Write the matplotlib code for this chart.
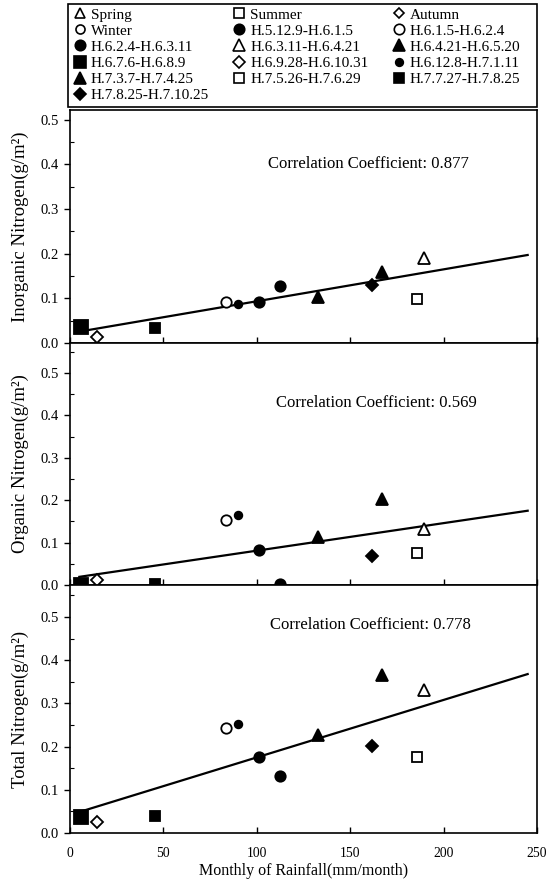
import matplotlib
matplotlib.use("Agg")
import matplotlib.pyplot as plt
from matplotlib.lines import Line2D
from matplotlib.patches import Rectangle
from matplotlib.ticker import MultipleLocator, FormatStrFormatter

plt.rcParams['font.family'] = ['Liberation Serif', 'DejaVu Serif']

# Sampling periods (Heisei dates)
periods = ["H.5.12.9-H.6.1.5", "H.6.1.5-H.6.2.4", "H.6.2.4-H.6.3.11",
           "H.6.3.11-H.6.4.21", "H.6.4.21-H.6.5.20", "H.6.7.6-H.6.8.9",
           "H.6.9.28-H.6.10.31", "H.6.12.8-H.7.1.11", "H.7.3.7-H.7.4.25",
           "H.7.5.26-H.7.6.29", "H.7.7.27-H.7.8.25", "H.7.8.25-H.7.10.25"]
seasons = ["Spring", "Summer", "Autumn", "Winter"]

# Monthly rainfall (mm/month) for each period
rainfall = [112.5, 83.6, 101.0, 189.7, 167.0, 6.0, 14.4, 89.8, 132.5, 186.0, 45.3, 161.8]

# Nitrogen loads (g/m^2)
inorganic_n = [0.128, 0.092, 0.092, 0.191, 0.160, 0.035, 0.013, 0.088, 0.102, 0.098, 0.033, 0.130]
organic_n = [0.002, 0.154, 0.083, 0.132, 0.202, 0.000, 0.012, 0.164, 0.113, 0.075, 0.002, 0.069]
total_n = [0.132, 0.243, 0.176, 0.331, 0.366, 0.038, 0.026, 0.252, 0.227, 0.176, 0.039, 0.202]

# Regression lines: (intercept, slope) and correlation coefficients
fit_inorganic = (0.022, 0.000715)
fit_organic = (0.016, 0.00065)
fit_total = (0.042, 0.00133)
fit_range = (5, 245)
r_values = [0.877, 0.569, 0.778]

# Marker style per period: (marker, filled, size)
period_styles = [("o", True, 7.5), ("o", False, 7.5), ("o", True, 7.5),
                 ("^", False, 8.0), ("^", True, 8.5), ("s", True, 9.5),
                 ("D", False, 6.0), ("o", True, 5.5), ("^", True, 8.5),
                 ("s", False, 6.5), ("s", True, 7.5), ("D", True, 6.0)]
season_styles = [("^", False, 7.0), ("s", False, 6.5), ("D", False, 5.5), ("o", False, 6.5)]

W, H = 546, 883
fig = plt.figure(figsize=(W / 100, H / 100), dpi=100)


def fig_rect(left, top, right, bottom):
    return [left / W, 1 - bottom / H, (right - left) / W, (bottom - top) / H]


panels = [
    (fig_rect(70, 110, 537, 343), inorganic_n, fit_inorganic, 0.522,
     "Inorganic Nitrogen(g/m²)", (160, 0.40)),
    (fig_rect(70, 343, 537, 585), organic_n, fit_organic, 0.571,
     "Organic Nitrogen(g/m²)", (164, 0.43)),
    (fig_rect(70, 585, 537, 833), total_n, fit_total, 0.574,
     "Total Nitrogen(g/m²)", (161, 0.482)),
]

axes = []
for i, (rect, values, fit, ytop, ylabel, txt_pos) in enumerate(panels):
    ax = fig.add_axes(rect)
    axes.append(ax)
    for x, y, (mk, filled, ms) in zip(rainfall, values, period_styles):
        ax.plot([x], [y], linestyle="none", marker=mk, markersize=ms,
                markerfacecolor="black" if filled else "white",
                markeredgecolor="black", markeredgewidth=1.3, zorder=3)
    b0, b1 = fit
    xs = list(fit_range)
    ax.plot(xs, [b0 + b1 * x for x in xs], color="black", lw=1.6, zorder=2)
    ax.text(txt_pos[0], txt_pos[1], f"Correlation Coefficient: {r_values[i]:.3f}",
            ha="center", va="center", fontsize=12)
    ax.set_xlim(0, 250)
    ax.set_ylim(0, ytop)
    ax.yaxis.set_major_locator(MultipleLocator(0.1))
    ax.yaxis.set_minor_locator(MultipleLocator(0.05))
    ax.yaxis.set_major_formatter(FormatStrFormatter("%.1f"))
    ax.xaxis.set_major_locator(MultipleLocator(50))
    ax.tick_params(axis="y", which="major", direction="out", length=4, width=1,
                   labelsize=10.5, pad=4)
    ax.tick_params(axis="y", which="minor", direction="in", length=3, width=0.8)
    ax.tick_params(axis="x", which="major", direction="in", length=4, width=1,
                   labelsize=9.8, pad=10, top=False)
    ax.set_ylabel(ylabel, fontsize=13.5)
    ax.yaxis.set_label_coords(-0.088, 0.5)
    for sp in ax.spines.values():
        sp.set_linewidth(1.2)
    if i < 2:
        ax.tick_params(axis="x", labelbottom=False)

axes[-1].set_xlabel("Monthly of Rainfall(mm/month)", fontsize=11.5, labelpad=2)

# Legend: seasons first, then each sampling period; arranged row by row in 3 columns
entries = []
for name, (mk, filled, ms) in zip(seasons, season_styles):
    entries.append((name, mk, filled, ms))
for name, (mk, filled, ms) in zip(periods, period_styles):
    entries.append((name, mk, filled, min(ms, 8.0)))

ncol = 3
ordered = [entries[j] for c in range(ncol) for j in range(c, len(entries), ncol)]
handles = [Line2D([], [], linestyle="none", marker=mk, markersize=ms,
                  markerfacecolor="black" if filled else "white",
                  markeredgecolor="black", markeredgewidth=1.2)
           for (_, mk, filled, ms) in ordered]
labels = [e[0] for e in ordered]

leg = fig.legend(handles, labels, ncol=ncol, loc="upper left",
                 bbox_to_anchor=(70 / W, 1 - 4 / H), borderaxespad=0,
                 fontsize=11, handlelength=0.8, handletextpad=0.3,
                 labelspacing=0.16, columnspacing=1.6, borderpad=0.25,
                 frameon=False)

# Box around the legend block
fig.patches.append(Rectangle((68 / W, 1 - 107 / H), (537 - 68) / W, 103 / H,
                             transform=fig.transFigure, fill=False,
                             edgecolor="black", linewidth=1.2))

fig.savefig("out.png", dpi=100)
